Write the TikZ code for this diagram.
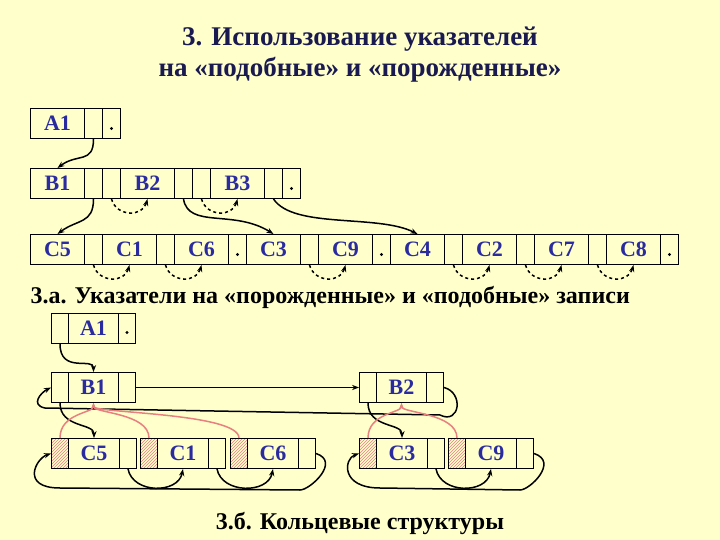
\documentclass[tikz,border=0pt]{standalone}
\usepackage{fontspec}
\setmainfont{Liberation Serif}
\usetikzlibrary{patterns,arrows.meta}
\definecolor{bg}{HTML}{FFFFCC}
\definecolor{lbl}{HTML}{2B2BA0}
\definecolor{ttl}{HTML}{1A1A50}
\definecolor{pinkc}{HTML}{E88080}
\begin{document}
\begin{tikzpicture}[x=1pt,y=-1pt,
 cell/.style={draw,line width=1pt,minimum height=30pt,inner sep=0pt,anchor=north west,font=\bfseries\fontsize{22}{22}\selectfont,text=lbl,text height=14pt,text depth=0pt},
 hat/.style={cell,pattern=north east lines,pattern color=pinkc},
 ptr/.style={line width=1.5pt,-{Stealth[length=7pt]}},
 dptr/.style={ptr,dashed},
 rptr/.style={draw=pinkc,line width=1.5pt,-{Stealth[length=6pt]}},
 dotc/.style={circle,fill,inner sep=1.2pt}]
\fill[bg] (0,0) rectangle (720,540);
\useasboundingbox (0,0) rectangle (720,540);
\node[font=\bfseries\fontsize{27}{27}\selectfont,text=ttl,align=center] (title) at (360,55) {3. Использование указателей\\[4pt]на «подобные» и «порожденные»};
% top
\newcommand{\rec}[5]{\node[cell,minimum width=#4pt] (#1) at (#2,#3) {#5};}
\rec{a1}{30}{108}{54}{A1}\rec{a1p}{84}{108}{18}{}\rec{a1d}{102}{108}{18}{}
\node[dotc] (a1dd) at ([yshift=-5pt]a1d.center) {};
\rec{b1}{30}{168}{54}{B1}\rec{b1p}{84}{168}{18}{}\rec{b1n}{102}{168}{18}{}
\rec{b2}{120}{168}{54}{B2}\rec{b2p}{174}{168}{18}{}\rec{b2n}{192}{168}{18}{}
\rec{b3}{210}{168}{54}{B3}\rec{b3p}{264}{168}{18}{}\rec{b3n}{282}{168}{18}{}
\node[dotc] (b3dd) at ([yshift=-5pt]b3n.center) {};
\rec{c5}{30}{234}{54}{C5}\rec{c5n}{84}{234}{18}{}
\rec{c1}{102}{234}{54}{C1}\rec{c1n}{156}{234}{18}{}
\rec{c6}{174}{234}{54}{C6}\rec{c6n}{228}{234}{18}{}
\node[dotc] (c6dd) at ([yshift=-5pt]c6n.center) {};
\rec{c3}{246}{234}{54}{C3}\rec{c3n}{300}{234}{18}{}
\rec{c9}{318}{234}{54}{C9}\rec{c9n}{372}{234}{18}{}
\node[dotc] (c9dd) at ([yshift=-5pt]c9n.center) {};
\rec{c4}{390}{234}{54}{C4}\rec{c4n}{444}{234}{18}{}
\rec{c2}{462}{234}{54}{C2}\rec{c2n}{516}{234}{18}{}
\rec{c7}{534}{234}{54}{C7}\rec{c7n}{588}{234}{18}{}
\rec{c8}{606}{234}{54}{C8}\rec{c8n}{660}{234}{18}{}
\node[dotc] (c8dd) at ([yshift=-5pt]c8n.center) {};
\draw[ptr] (a1p.south) .. controls +(0,25) and +(20,-15) .. (b1.north);
\draw[ptr] (b1p.south) .. controls +(0,25) and +(20,-15) .. (c5.north);
\draw[ptr] (b2p.south) .. controls +(5,30) and +(-40,-25) .. (c3.north);
\draw[ptr] (b3p.south) .. controls +(20,30) and +(-40,-20) .. (c4.north);
\draw[dptr] (b1n.south) .. controls +(5,18) and +(-5,18) .. (b2.south);
\draw[dptr] (b2n.south) .. controls +(5,18) and +(-5,18) .. (b3.south);
\foreach \p/\q in {c5n/c1,c1n/c6,c3n/c9,c4n/c2,c2n/c7,c7n/c8}
 \draw[dptr] (\p.south) .. controls +(5,18) and +(-5,18) .. (\q.south);
\node[font=\bfseries\fontsize{24}{24}\selectfont,anchor=west] (t3a) at (27,297) {3.а. Указатели на «порожденные» и «подобные» записи};
% bottom
\rec{xa}{51}{313}{17}{}\rec{xa1}{68}{313}{50}{A1}\rec{xad}{118}{313}{17}{}
\node[dotc] (xadd) at ([yshift=-4pt]xad.center) {};
\rec{xb1l}{51}{372}{17}{}\rec{xb1}{68}{372}{50}{B1}\rec{xb1r}{118}{372}{17}{}
\rec{xb2l}{359}{372}{17}{}\rec{xb2}{376}{372}{50}{B2}\rec{xb2r}{426}{372}{17}{}
\newcommand{\hrec}[3]{\node[hat,minimum width=17pt] (#1l) at (#2,438) {};\node[cell,minimum width=51pt] (#1) at (#2+17,438) {#3};\node[cell,minimum width=17pt] (#1r) at (#2+68,438) {};}
\hrec{xc5}{51}{C5}\hrec{xc1}{140}{C1}\hrec{xc6}{230}{C6}\hrec{xc3}{359}{C3}\hrec{xc9}{448}{C9}
\draw[ptr] (xa.south) .. controls +(0,30) and +(0,-15) .. (xb1.north);
\draw[ptr] (xb1r.east) -- (xb2l.west);
\draw[ptr] (xb1l.south) .. controls +(0,25) and +(0,-15) .. (xc5.north);
\draw[ptr] (xb2l.south) .. controls +(0,25) and +(0,-15) .. (xc3.north);
\draw[ptr] (xb2r.east) .. controls +(20,5) and +(20,10) .. (440,415) -- (45,408) .. controls +(-15,-3) and +(-10,5) .. (xb1l.west);
\foreach \p/\q in {xc5r/xc1,xc1r/xc6,xc3r/xc9}
 \draw[ptr] (\p.south) .. controls +(5,25) and +(-5,25) .. (\q.south);
\draw[ptr] (xc6r.east) .. controls +(25,8) and +(10,0) .. (300,490) -- (60,488) .. controls +(-40,0) and +(-15,5) .. (xc5l.west);
\draw[ptr] (xc9r.east) .. controls +(25,8) and +(10,0) .. (520,490) -- (380,488) .. controls +(-40,0) and +(-15,5) .. (xc3l.west);
\foreach \s in {xc5l,xc1l,xc6l} \draw[rptr] (\s.north) .. controls +(0,-25) and +(0,10) .. (xb1.south);
\foreach \s in {xc3l,xc9l} \draw[rptr] (\s.north) .. controls +(0,-25) and +(0,10) .. (xb2.south);
\node[font=\bfseries\fontsize{24}{24}\selectfont] (t3b) at (360,523) {3.б. Кольцевые структуры};
\end{tikzpicture}
\end{document}
